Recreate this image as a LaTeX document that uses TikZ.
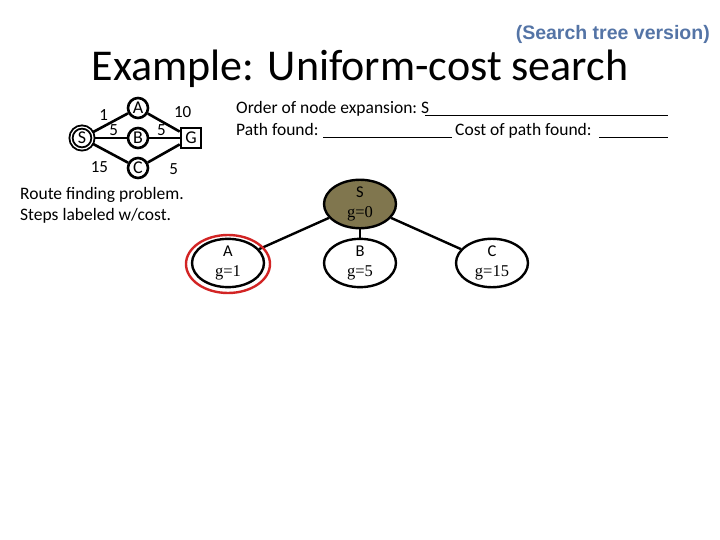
\documentclass[tikz,border=0pt]{standalone}
\usepackage{fontspec}
\setmainfont{Carlito}
\newfontfamily\notefont{Liberation Sans}
\newfontfamily\gfont{Liberation Serif}
\usetikzlibrary{shapes.geometric,positioning}
\definecolor{treeolive}{RGB}{128,118,78}
\definecolor{noteblue}{RGB}{84,116,166}
\definecolor{pickred}{RGB}{210,36,36}

\begin{document}
\begin{tikzpicture}[x=1pt,y=-1pt,
  city/.style={circle,draw,line width=2.6pt,minimum size=20pt,inner sep=0pt,font=\fontsize{18}{18}\selectfont},
  road/.style={line width=2.6pt},
  cost/.style={font=\fontsize{17}{17}\selectfont,inner sep=1pt},
  treenode/.style={ellipse,draw,line width=2.4pt,minimum width=72pt,minimum height=44pt,inner sep=0pt,align=center,font=\fontsize{16.5}{20}\selectfont},
  treeedge/.style={line width=2.4pt},
  line/.style={font=\fontsize{17.5}{17.5}\selectfont,anchor=base west,inner sep=0pt}]
 \useasboundingbox (0,0) rectangle (720,540);

 % headings
 \node[font=\notefont\bfseries\fontsize{19.5}{19.5}\selectfont,text=noteblue,anchor=east,inner sep=0pt] (version) at (710,34) {(Search tree version)};
 \node[font=\fontsize{44}{44}\selectfont,anchor=base,inner sep=0pt] (title) at (360,81) {Example: Uniform-cost search};

 % route finding graph
 \node[city,minimum size=22pt,double,line width=1.9pt,double distance=1.2pt] (s) at (82,138) {S};
 \node[city] (a) at (138,108) {A};
 \node[city] (b) at (138,138) {B};
 \node[city] (c) at (138,168) {C};
 \node[city,rectangle,minimum size=20pt] (g) at (191,138) {G};
 \draw[road] (s) -- (a) node[cost,midway,above left] {1};
 \draw[road] (s) -- (b) node[cost,pos=0.6,above] {5};
 \draw[road] (s) -- (c) node[cost,midway,below left,yshift=-6pt] {15};
 \draw[road] (a) -- (g) node[cost,pos=0.75,above right,yshift=7pt] {10};
 \draw[road] (b) -- (g) node[cost,pos=0.4,above] {5};
 \draw[road] (c) -- (g) node[cost,pos=0.6,below right,yshift=-10pt] {5};

 \node[line,font=\fontsize{17.5}{21}\selectfont,align=left,anchor=north west] (route) at (20,187) {Route finding problem.\\Steps labeled w/cost.};

 % the blanks
 \node[line] (order) at (236,114) {Order of node expansion:~S};
 \node[line] (path) at (236,136) {Path found:};
 \node[line] (pathcost) at (455,136) {Cost of path found:};
 \draw[line width=1pt] (425,116) -- (668,116);
 \draw[line width=1pt] (323,138) -- (452,138);
 \draw[line width=1pt] (599,138) -- (668,138);

 % search tree
 \node[treenode,fill=treeolive] (ts) at (360,204) {S\\\gfont g=0};
 \node[treenode] (ta) at (228,263) {A\\\gfont g=1};
 \node[treenode] (tb) at (360,263) {B\\\gfont g=5};
 \node[treenode] (tc) at (492,263) {C\\\gfont g=15};
 \draw[treeedge] (ts) -- (ta);
 \draw[treeedge] (ts) -- (tb);
 \draw[treeedge] (ts) -- (tc);
 \node[ellipse,draw=pickred,line width=2.4pt,minimum width=84pt,minimum height=58pt] (pick) at (228,264) {};
\end{tikzpicture}
\end{document}
